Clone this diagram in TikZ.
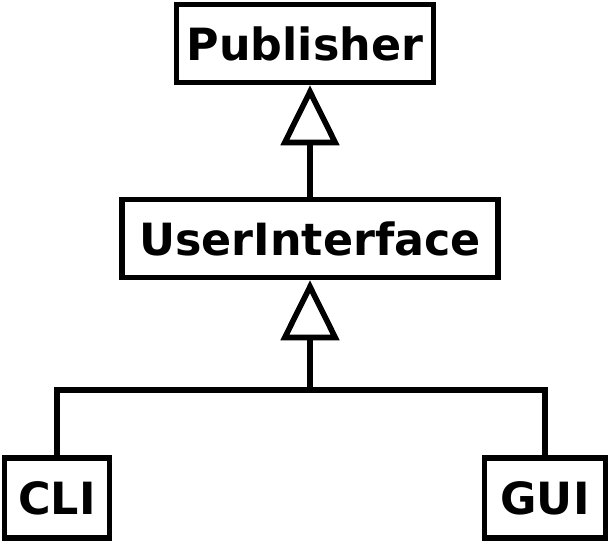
\documentclass[tikz,border=0pt]{standalone}
\usepackage{fontspec}
\setmainfont{DejaVu Sans}
\usetikzlibrary{arrows.meta, positioning}

\begin{document}
\begin{tikzpicture}[x=0.5pt, y=-0.5pt,
    every node/.style={font=\fontsize{22.2}{26}\selectfont\bfseries},
    cls/.style={draw, line width=2.8pt, inner sep=0pt, minimum height=39pt},
    inherit/.style={line width=2.8pt, -{Triangle[open, length=30pt, width=29pt]}}]

\useasboundingbox (0,0) rectangle (609,542);

% Classes
\node[cls, minimum width=128.5pt] (pub) at (305,43.5) {Publisher};
\node[cls, minimum width=188pt] (ui) at (310,238.5) {UserInterface};
\node[cls, minimum width=52.5pt, minimum height=40pt] (cli) at (57,498) {CLI};
\node[cls, minimum width=60.5pt, minimum height=40pt] (gui) at (545,498) {GUI};

% UserInterface -> Publisher
\draw[inherit] (ui.north) -- (ui.north |- pub.south);

% CLI, GUI -> UserInterface
\coordinate (bar) at (310,390);
\draw[line width=2.8pt] (cli.north) |- (bar) -| (gui.north);
\draw[inherit] (bar) -- (ui.south);

\end{tikzpicture}
\end{document}
